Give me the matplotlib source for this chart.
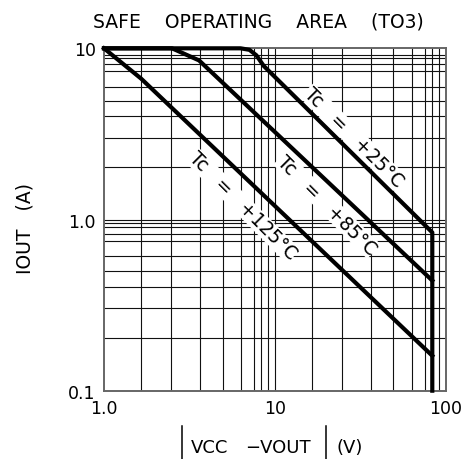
import matplotlib
matplotlib.use('Agg')
import matplotlib.pyplot as plt
from matplotlib.lines import Line2D

# curves (V, A)
v25 = [1.0, 6.3, 7.1, 7.8, 8.6, 83.5, 83.5]
i25 = [10, 10, 9.8, 9.1, 7.9, 0.84, 0.1]
v85 = [1.0, 2.5, 3.6, 83.5]
i85 = [10, 10, 8.5, 0.44]
v125 = [1.0, 1.65, 83.5]
i125 = [10, 6.65, 0.16]

# odd grid spacing of the original drawing
x_grid = [1.65, 2.48, 3.67, 5.0, 6.35, 7.55, 8.3, 9.1, 10,
          16.4, 24.8, 36.6, 49.5, 63.5, 75.6, 83.5, 91.4]
y_grid = [0.203, 0.303, 0.406, 0.499, 0.608, 0.748, 0.825, 0.903, 0.957, 1.0,
          2.02, 3.0, 4.04, 4.95, 5.97, 7.34, 8.1, 8.78, 9.18]

x_ticks = [1, 10, 100]
x_labels = ['1.0', '10', '100']
y_ticks = [0.1, 1, 10]
y_labels = ['0.1', '1.0', '10']

W, H = 464, 460
fig = plt.figure(figsize=(W / 100, H / 100), dpi=100)
ax = fig.add_axes([0.2241, 0.1485, 0.7364, 0.7443])
ax.set_xscale('log')
ax.set_yscale('log')
ax.set_xlim(1, 100)
ax.set_ylim(0.1, 10)

for g in x_grid:
    ax.axvline(g, color='#111111', lw=0.8, zorder=1)
for g in y_grid:
    ax.axhline(g, color='#111111', lw=0.8, zorder=1)

for v, i in [(v25, i25), (v85, i85), (v125, i125)]:
    ax.plot(v, i, color='black', lw=3.0, solid_joinstyle='round',
            clip_on=False, zorder=3)

ax.set_xticks(x_ticks)
ax.set_xticklabels(x_labels)
ax.set_yticks(y_ticks)
ax.set_yticklabels(y_labels)
ax.minorticks_off()
ax.tick_params(length=0, labelsize=12.5, pad=6)
for s in ax.spines.values():
    s.set_color('#666666')
    s.set_linewidth(1.4)

box = dict(facecolor='white', edgecolor='none', pad=0.3)
ax.text(28.9, 3.03, 'Tc   =   +25°C', rotation=-45, ha='center', va='center',
        fontsize=13.5, bbox=box, zorder=4)
ax.text(20.2, 1.22, 'Tc   =   +85°C', rotation=-45, ha='center', va='center',
        fontsize=13.5, bbox=box, zorder=4)
ax.text(6.46, 1.21, 'Tc   =   +125°C', rotation=-45, ha='center', va='center',
        fontsize=13.5, bbox=box, zorder=4)

fig.text(258 / W, 1 - 22 / H, 'SAFE    OPERATING    AREA    (TO3)',
         ha='center', va='center', fontsize=13.5)
fig.text(25 / W, 1 - 228 / H, 'IOUT   (A)', rotation=90,
         ha='center', va='center', fontsize=13.5)

# x label: |VCC -VOUT|(V) with tall thin bars
for bx in [182, 326]:
    fig.add_artist(Line2D([bx / W, bx / W], [1 - 427 / H, 1 - 460 / H],
                          color='black', lw=1.1, transform=fig.transFigure))
fig.text(210 / W, 1 - 448 / H, 'VCC', ha='center', va='center', fontsize=13)
fig.text(278 / W, 1 - 448 / H, '−VOUT', ha='center', va='center', fontsize=13)
fig.text(350 / W, 1 - 448 / H, '(V)', ha='center', va='center', fontsize=13)

fig.savefig('out.png', dpi=100)
